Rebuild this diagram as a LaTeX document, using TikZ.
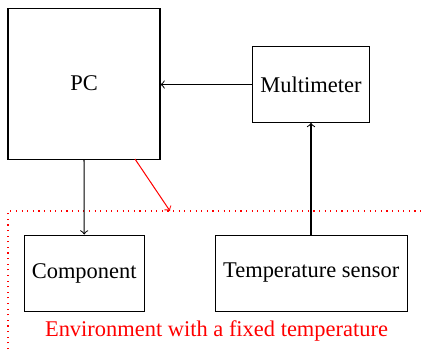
\documentclass[tikz,border=0pt]{standalone}
\usepackage{fontspec}
\setmainfont{Liberation Serif}
\begin{document}
\begin{tikzpicture}[x=0.4454pt,y=-0.4454pt,
  box/.style={draw,line width=0.45pt,inner sep=0pt,font=\fontsize{10}{12}\selectfont},
  conn/.style={->,line width=0.45pt},
  env/.style={red,dotted,line width=0.5pt}]
\useasboundingbox (0,0) rectangle (422,349);
\node[box,minimum width=152*0.4454pt,minimum height=151*0.4454pt] (pc) at (84,83.5) {PC};
\node[box,minimum width=116.6*0.4454pt,minimum height=75.6*0.4454pt] (mm) at (311,84.5) {Multimeter};
\node[box,minimum width=120.3*0.4454pt,minimum height=76*0.4454pt] (comp) at (84.2,273) {Component};
\node[box,minimum width=192.3*0.4454pt,minimum height=76*0.4454pt] (ts) at (311.2,273) {Temperature sensor};
\node[red,anchor=base,inner sep=0pt,font=\fontsize{10}{12}\selectfont] (envlabel) at (216.5,336.5) {Environment with a fixed temperature};
\coordinate (envbl) at (8,349);
\coordinate (envtl) at (8,211);
\coordinate (envtr) at (422,211);
\coordinate (redtip) at (170,211);
\coordinate (pcred) at (135,159);
\draw[env] (envbl) -- (envtl) -- (envtr);
\draw[conn] (mm.west) -- (pc.east |- mm.west);
\draw[conn] (pc.south) -- (comp.north);
\draw[conn] (ts.north -| mm.south) -- (mm.south);
\draw[conn,red] (pcred) -- (redtip);
\end{tikzpicture}
\end{document}
